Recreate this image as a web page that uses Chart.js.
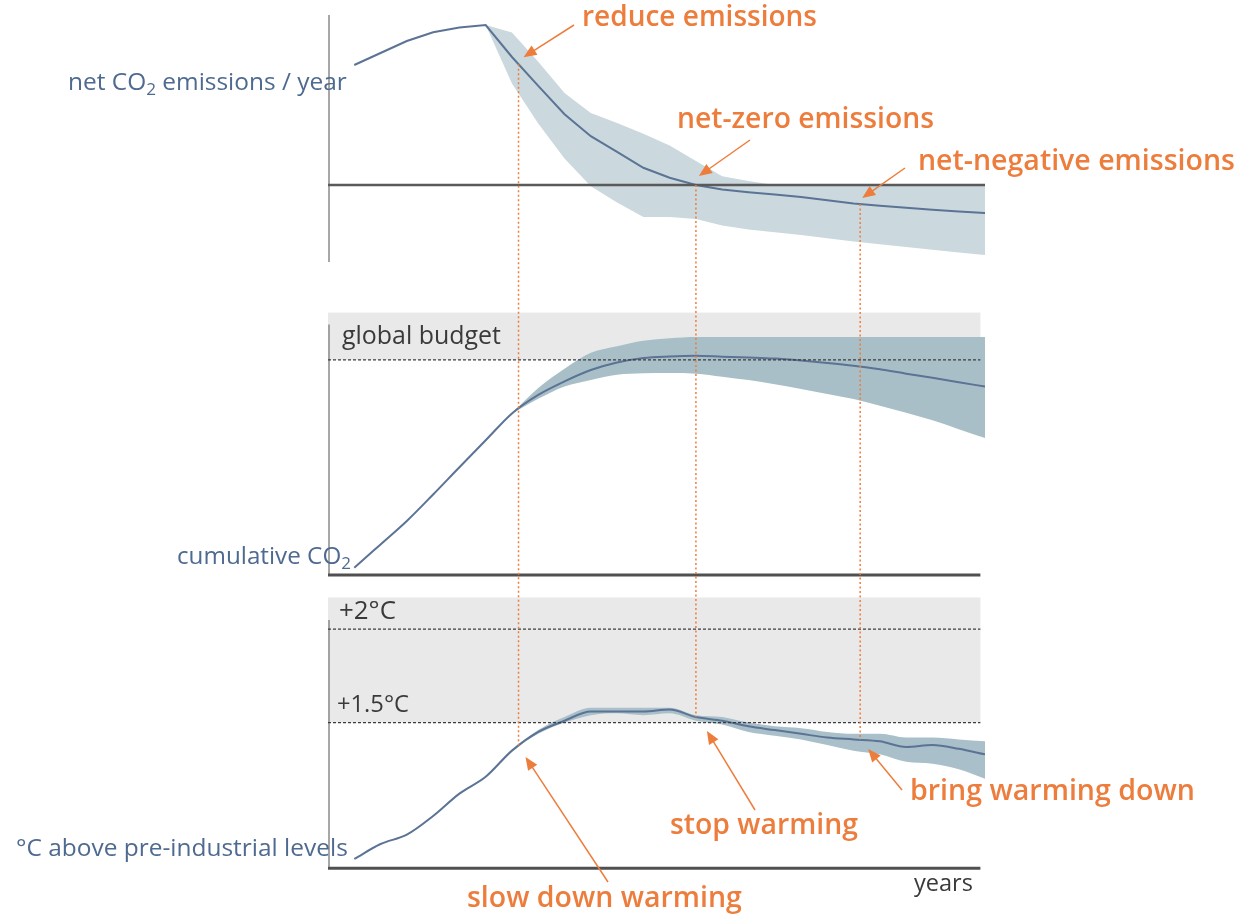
<!DOCTYPE html>
<html>
<head>
<meta charset="utf-8">
<script src="https://cdn.jsdelivr.net/npm/chart.js@4.4.1/dist/chart.umd.min.js"></script>
<style>
  html, body { margin: 0; padding: 0; background: #fff; }
  #wrap { width: 1241px; height: 915px; }
</style>
</head>
<body>
<div id="wrap"><canvas id="myChart" width="1241" height="915"></canvas></div>
<script>
// conceptual "years" axis, 0..100
const years = [4, 8, 12, 16, 20, 24, 28, 32, 36, 40, 44, 48, 52, 56, 60, 64, 68, 72, 76, 80, 84, 88, 92, 96, 100];

// net CO2 emissions / year (arbitrary units, 0 = net zero)
const emissions     = [30, 33, 36, 38.2, 39.4, 40, 32, 24.8, 17.7, 12.2, 8.3, 4.3, 1.8, 0, -1.1, -1.8, -2.4, -3, -3.8, -4.6, -5.2, -5.7, -6.2, -6.6, -7];
const emissionsHigh = [null, null, null, null, null, 40, 38.1, 30.8, 23, 18, 15.5, 12.8, 9.9, 6, 2.2, 1, 0, 0, 0, 0, 0, 0, 0, 0, 0];
const emissionsLow  = [null, null, null, null, null, 40, 25.4, 15.4, 6.6, -0.3, -4.4, -8, -8, -8.5, -10.1, -11.1, -11.8, -12.5, -13.3, -14.1, -14.8, -15.5, -16.2, -16.9, -17.5];

// cumulative CO2 (global budget = 100)
const cumulative     = [3.3, 14.2, 25.1, 37.4, 50.1, 62.6, 75.1, 83.7, 90, 95.3, 98.8, 100.9, 101.6, 101.9, 101.5, 101.1, 100.6, 99.7, 98.6, 97.3, 95.6, 93.6, 91.7, 89.6, 87.6];
const cumulativeHigh = [null, null, null, null, null, null, 75.1, 86.9, 95.9, 103.3, 106.4, 108.9, 110.1, 110.7, 110.7, 110.7, 110.7, 110.7, 110.7, 110.7, 110.7, 110.7, 110.7, 110.7, 110.7];
const cumulativeLow  = [null, null, null, null, null, null, 75.1, 81.9, 87.6, 90.7, 93.1, 93.8, 93.9, 93.6, 92.2, 90.6, 88.7, 86.5, 84.1, 81.8, 78.7, 75.4, 71.9, 67.8, 63.7];

// °C above pre-industrial levels
const warming     = [0.77, 0.85, 0.9, 1, 1.12, 1.21, 1.35, 1.45, 1.51, 1.56, 1.56, 1.56, 1.57, 1.53, 1.51, 1.48, 1.46, 1.44, 1.42, 1.41, 1.4, 1.37, 1.38, 1.36, 1.33];
const warmingHigh = [null, null, null, null, null, null, 1.35, 1.46, 1.53, 1.58, 1.58, 1.58, 1.58, 1.54, 1.53, 1.5, 1.48, 1.47, 1.45, 1.44, 1.44, 1.42, 1.42, 1.41, 1.4];
const warmingLow  = [null, null, null, null, null, null, 1.35, 1.44, 1.5, 1.54, 1.55, 1.54, 1.55, 1.51, 1.49, 1.45, 1.43, 1.41, 1.38, 1.35, 1.33, 1.29, 1.28, 1.25, 1.2];

const globalBudget = 100;
const warmingLevels = [1.5, 2];
const milestones = [29, 56, 81];

const ORANGE = '#ed7d3c';
const LINE = '#5b7394';
const FONT = "'Open Sans', sans-serif";

const pts = arr => years.map((x, i) => ({x: x, y: arr[i]}));

function interp(arr, v) {
  for (let i = 0; i < years.length - 1; i++) {
    if (v >= years[i] && v <= years[i + 1]) {
      const t = (v - years[i]) / (years[i + 1] - years[i]);
      return arr[i] + t * (arr[i + 1] - arr[i]);
    }
  }
  return arr[arr.length - 1];
}

function central(data, axis, tension) {
  return {data: pts(data), yAxisID: axis, borderColor: LINE, borderWidth: 2, pointRadius: 0,
    fill: false, tension: tension, cubicInterpolationMode: tension ? 'monotone' : 'default'};
}
function band(data, axis, color, fill, tension) {
  return {data: pts(data), yAxisID: axis, borderColor: 'rgba(0,0,0,0)', borderWidth: 0, pointRadius: 0,
    backgroundColor: color, fill: fill, tension: tension, cubicInterpolationMode: tension ? 'monotone' : 'default'};
}

function arrow(ctx, x1, y1, x2, y2) {
  const a = Math.atan2(y2 - y1, x2 - x1);
  const len = 13, hw = 5.5;
  ctx.beginPath();
  ctx.moveTo(x1, y1);
  ctx.lineTo(x2 - Math.cos(a) * len * 0.8, y2 - Math.sin(a) * len * 0.8);
  ctx.stroke();
  ctx.beginPath();
  ctx.moveTo(x2, y2);
  ctx.lineTo(x2 - Math.cos(a) * len + Math.sin(a) * hw, y2 - Math.sin(a) * len - Math.cos(a) * hw);
  ctx.lineTo(x2 - Math.cos(a) * len - Math.sin(a) * hw, y2 - Math.sin(a) * len + Math.cos(a) * hw);
  ctx.closePath();
  ctx.fill();
}

// text (with optional subscript parts) sized to a given width, aligned left or right
function fitText(ctx, parts, x, y, width, color, align, weight) {
  const wt = weight || '400';
  const measure = size => parts.reduce((w, p) => {
    ctx.font = wt + ' ' + (p.sub ? size * 0.7 : size) + 'px ' + FONT;
    return w + ctx.measureText(p.t).width;
  }, 0);
  const size = 20 * width / measure(20);
  ctx.fillStyle = color;
  ctx.textBaseline = 'middle';
  ctx.textAlign = 'left';
  let cx = align === 'right' ? x - width : x;
  parts.forEach(p => {
    ctx.font = wt + ' ' + (p.sub ? size * 0.7 : size) + 'px ' + FONT;
    ctx.fillText(p.t, cx, p.sub ? y + size * 0.3 : y);
    cx += ctx.measureText(p.t).width;
  });
}

const diagram = {
  id: 'diagram',
  beforeDatasetsDraw(chart) {
    const {ctx, scales: {x, yEm, yCum, yTemp}} = chart;
    const x0 = x.getPixelForValue(0), x1 = x.getPixelForValue(99.3);
    ctx.save();
    ctx.fillStyle = '#e9e9e9';
    let top = yCum.getPixelForValue(122), bot = yCum.getPixelForValue(globalBudget);
    ctx.fillRect(x0, top, x1 - x0, bot - top);
    top = yTemp.getPixelForValue(2.17); bot = yTemp.getPixelForValue(warmingLevels[0]);
    ctx.fillRect(x0, top, x1 - x0, bot - top);

    ctx.strokeStyle = '#8a8a8a';
    ctx.lineWidth = 1.5;
    [[yEm, 42.5, -19.25], [yCum, 116.5, 0], [yTemp, 2.05, 0.72]].forEach(([s, a, b]) => {
      ctx.beginPath();
      ctx.moveTo(x0 + 1, s.getPixelForValue(a));
      ctx.lineTo(x0 + 1, s.getPixelForValue(b));
      ctx.stroke();
    });
    ctx.restore();
  },
  afterDatasetsDraw(chart) {
    const {ctx, scales: {x, yEm, yCum, yTemp}} = chart;
    const x0 = x.getPixelForValue(0), x1 = x.getPixelForValue(99.3), xEnd = x.getPixelForValue(100);
    ctx.save();
    // reference dashed lines
    ctx.strokeStyle = '#3c3c3c';
    ctx.lineWidth = 1.2;
    ctx.setLineDash([3, 2]);
    [[yCum, globalBudget], [yTemp, warmingLevels[0]], [yTemp, warmingLevels[1]]].forEach(([s, v]) => {
      const py = s.getPixelForValue(v);
      ctx.beginPath(); ctx.moveTo(x0, py); ctx.lineTo(x1, py); ctx.stroke();
    });
    ctx.setLineDash([]);

    // zero line and baselines
    ctx.strokeStyle = '#5a5a5a';
    ctx.lineWidth = 2.5;
    let py = yEm.getPixelForValue(0);
    ctx.beginPath(); ctx.moveTo(x0, py); ctx.lineTo(xEnd, py); ctx.stroke();
    ctx.lineWidth = 3;
    ctx.strokeStyle = '#505050';
    py = yCum.getPixelForValue(0);
    ctx.beginPath(); ctx.moveTo(x0, py); ctx.lineTo(x1, py); ctx.stroke();
    py = yTemp.getPixelForValue(0.72);
    ctx.beginPath(); ctx.moveTo(x0, py); ctx.lineTo(x1, py); ctx.stroke();

    // milestone dotted lines
    ctx.strokeStyle = ORANGE;
    ctx.lineWidth = 1.5;
    ctx.setLineDash([2, 2.5]);
    milestones.forEach(m => {
      const px = x.getPixelForValue(m);
      ctx.beginPath();
      ctx.moveTo(px, yEm.getPixelForValue(interp(emissions, m)));
      ctx.lineTo(px, yTemp.getPixelForValue(interp(warming, m)));
      ctx.stroke();
    });
    ctx.setLineDash([]);

    // arrows, tips next to the curves
    ctx.fillStyle = ORANGE;
    ctx.lineWidth = 1.5;
    const tip = (m, s, arr, dx, dy) => [x.getPixelForValue(m) + dx, s.getPixelForValue(interp(arr, m)) + dy];
    const arrows = [
      [[574, 25], tip(milestones[0], yEm, emissions, 5, -7)],
      [[750, 140], tip(milestones[1], yEm, emissions, 3, -9)],
      [[905, 168], tip(milestones[2], yEm, emissions, 2, -6)],
      [[608, 882], tip(milestones[0], yTemp, warming, 7, 11)],
      [[755, 810], tip(milestones[1], yTemp, warming, 11, 14)],
      [[902, 790], tip(milestones[2], yTemp, warming, 8, 9)]
    ];
    arrows.forEach(([a, b]) => arrow(ctx, a[0], a[1], b[0], b[1]));
    ctx.restore();
  },
  afterDraw(chart) {
    const {ctx} = chart;
    ctx.save();
    const blue = '#4e6a90', dark = '#3a3a3a';
    fitText(ctx, [{t: 'net CO'}, {t: '2', sub: true}, {t: ' emissions / year'}], 347, 83, 279, blue, 'right');
    fitText(ctx, [{t: 'cumulative CO'}, {t: '2', sub: true}], 351, 557, 174, blue, 'right');
    fitText(ctx, [{t: '°C above pre-industrial levels'}], 348, 849, 332, blue, 'right');
    fitText(ctx, [{t: 'global budget'}], 342, 337, 159, dark, 'left');
    fitText(ctx, [{t: '+2°C'}], 339, 612, 57, dark, 'left');
    fitText(ctx, [{t: '+1.5°C'}], 337, 705, 72, dark, 'left');
    fitText(ctx, [{t: 'years'}], 914, 884, 59, dark, 'left');

    fitText(ctx, [{t: 'reduce emissions'}], 582, 18, 235, ORANGE, 'left', '600');
    fitText(ctx, [{t: 'net-zero emissions'}], 677, 120, 257, ORANGE, 'left', '600');
    fitText(ctx, [{t: 'net-negative emissions'}], 918, 162, 317, ORANGE, 'left', '600');
    fitText(ctx, [{t: 'stop warming'}], 670, 826, 188, ORANGE, 'left', '600');
    fitText(ctx, [{t: 'bring warming down'}], 910, 792, 285, ORANGE, 'left', '600');
    fitText(ctx, [{t: 'slow down warming'}], 467, 899, 275, ORANGE, 'left', '600');
    ctx.restore();
  }
};

const ctx = document.getElementById('myChart').getContext('2d');
const myChart = new Chart(ctx, {
  type: 'line',
  data: {
    datasets: [
      central(emissions, 'yEm', 0),
      central(cumulative, 'yCum', 0.4),
      central(warming, 'yTemp', 0.4),
      band(emissionsHigh, 'yEm', '#cbd9de', '+1', 0),
      band(emissionsLow, 'yEm', '#cbd9de', false, 0),
      band(cumulativeHigh, 'yCum', '#a9bfc8', '+1', 0.4),
      band(cumulativeLow, 'yCum', '#a9bfc8', false, 0.4),
      band(warmingHigh, 'yTemp', '#a9bfc9', '+1', 0.4),
      band(warmingLow, 'yTemp', '#a9bfc9', false, 0.4)
    ]
  },
  options: {
    responsive: false,
    animation: false,
    layout: {padding: {left: 328, right: 256, top: 0, bottom: 0}},
    plugins: {legend: {display: false}, tooltip: {enabled: false}},
    scales: {
      x: {type: 'linear', min: 0, max: 100, display: false},
      yEm: {type: 'linear', position: 'left', stack: 'panels', stackWeight: 290, weight: 3, min: -26.25, max: 46.25, display: false},
      yCum: {type: 'linear', position: 'left', stack: 'panels', stackWeight: 300, weight: 2, min: -7, max: 132.5, display: false},
      yTemp: {type: 'linear', position: 'left', stack: 'panels', stackWeight: 325, weight: 1, min: 0.47, max: 2.21, display: false}
    }
  },
  plugins: [diagram]
});
</script>
</body>
</html>
